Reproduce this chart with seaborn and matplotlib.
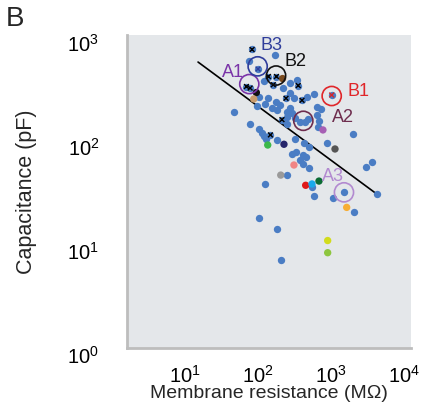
import numpy as np
import pandas as pd
import seaborn as sns
import matplotlib
matplotlib.use("Agg")
import matplotlib.pyplot as plt
from matplotlib.transforms import ScaledTranslation

# ---------------- data ----------------
# plain blue cells: membrane resistance (MOhm), capacitance (pF)
blue_R = [171, 76, 121, 104, 136, 96, 125, 175, 200, 154, 180, 47, 247, 247, 78,
          103, 114, 121, 129, 180, 321, 427, 505, 290, 332, 418, 461, 376, 413, 507,
          247, 125, 274, 342, 464, 585, 311, 637, 730, 274, 292, 247, 321, 376, 440,
          484, 643, 685, 664, 1972, 889, 218, 274, 544, 590, 1076, 1507, 2985, 3614,
          4306, 2065, 104, 180, 207]
blue_C = [656, 575, 367, 261, 255, 214, 220, 230, 217, 205, 194, 185, 187, 142, 142,
          128, 117, 109, 102, 100, 102, 93, 85, 73, 76, 72, 69, 64, 59, 54,
          46, 38, 356, 378, 261, 274, 253, 209, 199, 202, 181, 168, 162, 150, 150,
          158, 174, 152, 133, 114, 94, 314, 281, 35, 29, 28, 31.4, 55, 62,
          30, 20.5, 17.9, 13.8, 7.0]

# blue cells marked with an x
x_R = [83, 100, 139, 179, 162, 69.5, 78, 356, 242, 401, 1023, 213, 148]
x_C = [742, 482, 408, 408, 340, 327, 316, 334, 252, 241, 271, 157, 112]
x_col = ["black", "#2f3d9b", "black", "black", "black", "black", "black",
         "black", "black", "black", "#d8262a", "black", "black"]

# individually coloured cells
col_R = [217, 95, 87.5, 776, 136, 227, 1135, 311, 205, 450, 549, 685, 1641, 901, 901]
col_C = [390, 286, 248, 125, 89.5, 91, 82, 57.5, 46, 36.7, 37.8, 40.3, 22.5, 10.8, 8.25]
col_c = ["#7a4a1e", "#111111", "#c99b6c", "#a65fb4", "#3cb84a", "#25256b", "#555555",
         "#f08585", "#9a9a9a", "#e01a1a", "#19a9ea", "#0b6b34", "#f7ad35",
         "#d2dc1c", "#8dc63f"]

# highlighted example cells
ex_names = ["A1", "B3", "B2", "B1", "A2", "A3"]
ex_R = [76, 99, 177, 1023, 418, 1507]
ex_C = [345, 511, 417, 265, 153, 31.4]
ex_col = ["#7a34a8", "#2f3d9b", "#111111", "#e0262a", "#6e2d4e", "#b28ad0"]
lab_R = [46, 154, 327, 2404, 1439, 1065]
lab_C = [441, 810, 571, 296, 166, 44.4]

# regression line end points
fit_R = [15.1, 4306]
fit_C = [562, 30]

x_ticks = [10, 100, 1000, 10000]
y_ticks = [1, 10, 100, 1000]
x_ticklabels = [r"$\mathregular{10^{1}}$", r"$\mathregular{10^{2}}$",
                r"$\mathregular{10^{3}}$", r"$\mathregular{10^{4}}$"]
y_ticklabels = [r"$\mathregular{10^{0}}$", r"$\mathregular{10^{1}}$",
                r"$\mathregular{10^{2}}$", r"$\mathregular{10^{3}}$"]

# ---------------- plotting ----------------
sns.set_style("white")
plt.rcParams["font.family"] = ["Liberation Sans", "DejaVu Sans"]
plt.rcParams["mathtext.fontset"] = "custom"
plt.rcParams["mathtext.rm"] = "Liberation Sans"

fig = plt.figure(figsize=(4.23, 4.12), dpi=100)
ax = fig.add_axes([0.3002, 0.1553, 0.6714, 0.7597])
ax.set_facecolor("#e4e7ea")

blue_df = pd.DataFrame({"R": blue_R + x_R, "C": blue_C + x_C})
sns.scatterplot(data=blue_df, x="R", y="C", color="#4a7dc4", s=28, linewidth=0,
                ax=ax, zorder=3)

col_df = pd.DataFrame({"R": col_R, "C": col_C, "k": list(range(len(col_R)))})
sns.scatterplot(data=col_df, x="R", y="C", hue="k", palette=col_c, s=28,
                linewidth=0, legend=False, ax=ax, zorder=4)

x_df = pd.DataFrame({"R": x_R, "C": x_C, "k": list(range(len(x_R)))})
sns.scatterplot(data=x_df, x="R", y="C", hue="k", palette=x_col, marker="x",
                s=12, linewidth=1.0, legend=False, ax=ax, zorder=5)

sns.lineplot(x=fit_R, y=fit_C, color="black", linewidth=1.2, ax=ax, zorder=2)

ex_df = pd.DataFrame({"R": ex_R, "C": ex_C, "name": ex_names})
sns.scatterplot(data=ex_df, x="R", y="C", hue="name", palette=ex_col, s=190,
                facecolor="none", linewidth=1.2, legend=False, ax=ax, zorder=6)
coll = ax.collections[-1]
coll.set_facecolor("none")
coll.set_edgecolors(ex_col)

for name, r, c, colr in zip(ex_names, lab_R, lab_C, ex_col):
    ax.text(r, c, name, color=colr, fontsize=13, ha="center", va="center",
            zorder=7)

ax.set_xscale("log")
ax.set_yscale("log")
ax.set_xlim(10 ** 0.2055, 10 ** 4.096)
ax.set_ylim(1, 10 ** 3.0096)
ax.set_xticks(x_ticks)
ax.set_xticklabels(x_ticklabels)
ax.set_yticks(y_ticks)
ax.set_yticklabels(y_ticklabels)
ax.minorticks_off()
ax.tick_params(axis="both", length=0, labelsize=14.5, colors="black")
ax.tick_params(axis="y", pad=20)
ax.tick_params(axis="x", pad=12)
for lab in ax.get_yticklabels():
    lab.set_transform(lab.get_transform() + ScaledTranslation(0, -5 / 72, fig.dpi_scale_trans))

ax.set_xlabel("Membrane resistance (M\u03a9)", fontsize=14, labelpad=-1)
ax.set_ylabel("Capacitance (pF)", fontsize=15.5, labelpad=22)

for side in ["top", "right"]:
    ax.spines[side].set_visible(False)
for side in ["left", "bottom"]:
    ax.spines[side].set_color("#bdbdbd")
    ax.spines[side].set_linewidth(2)

fig.text(0.035, 0.953, "B", fontsize=20, ha="center", va="center")

fig.savefig("out.png", dpi=100)
